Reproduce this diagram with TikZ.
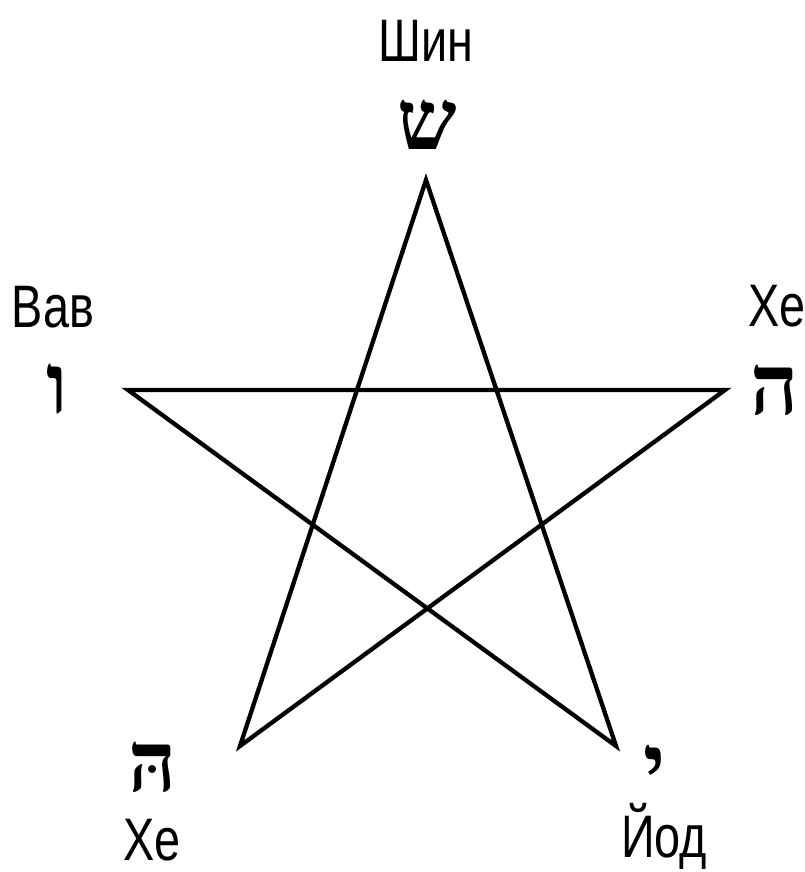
\documentclass[tikz,border=0pt]{standalone}
\usepackage{fontspec}
\newfontfamily\cyr[FakeStretch=0.78]{Liberation Sans}
\newfontfamily\heb[Script=Hebrew]{Liberation Serif}
\TeXXeTstate=1
\begin{document}
\begin{tikzpicture}[x=1pt,y=-1pt,
  lbl/.style={inner sep=0pt,font=\cyr\fontsize{60}{60}\selectfont},
  hb/.style={inner sep=0pt,font=\heb\bfseries\fontsize{84}{84}\selectfont},
  starline/.style={line width=4.3pt,line join=miter}]
\useasboundingbox[fill=white] (0,0) rectangle (805,872);
\coordinate (T) at (426,180);
\coordinate (L) at (128,390);
\coordinate (R) at (725,390);
\coordinate (BL) at (240,746);
\coordinate (BR) at (616,746);
\draw[starline] (T) -- (BL) -- (R) -- (L) -- (BR) -- cycle;
\node[lbl] (shin) at (426,41) {Шин};
\node[hb] (shinh) at (427,125) {\beginR ש\endR};
\node[lbl] (vav) at (53,307) {Вав};
\node[hb] (vavh) at (57,389) {\beginR ו\endR};
\node[lbl] (he1) at (777,306) {Хе};
\node[hb] (he1h) at (775,390) {\beginR ה\endR};
\node[hb] (he2h) at (153,767) {\beginR הּ\endR};
\node[lbl] (he2) at (152,840) {Хе};
\node[hb] (yodh) at (655,770) {\beginR י\endR};
\node[lbl] (yod) at (664,836) {Йод};
\end{tikzpicture}
\end{document}
